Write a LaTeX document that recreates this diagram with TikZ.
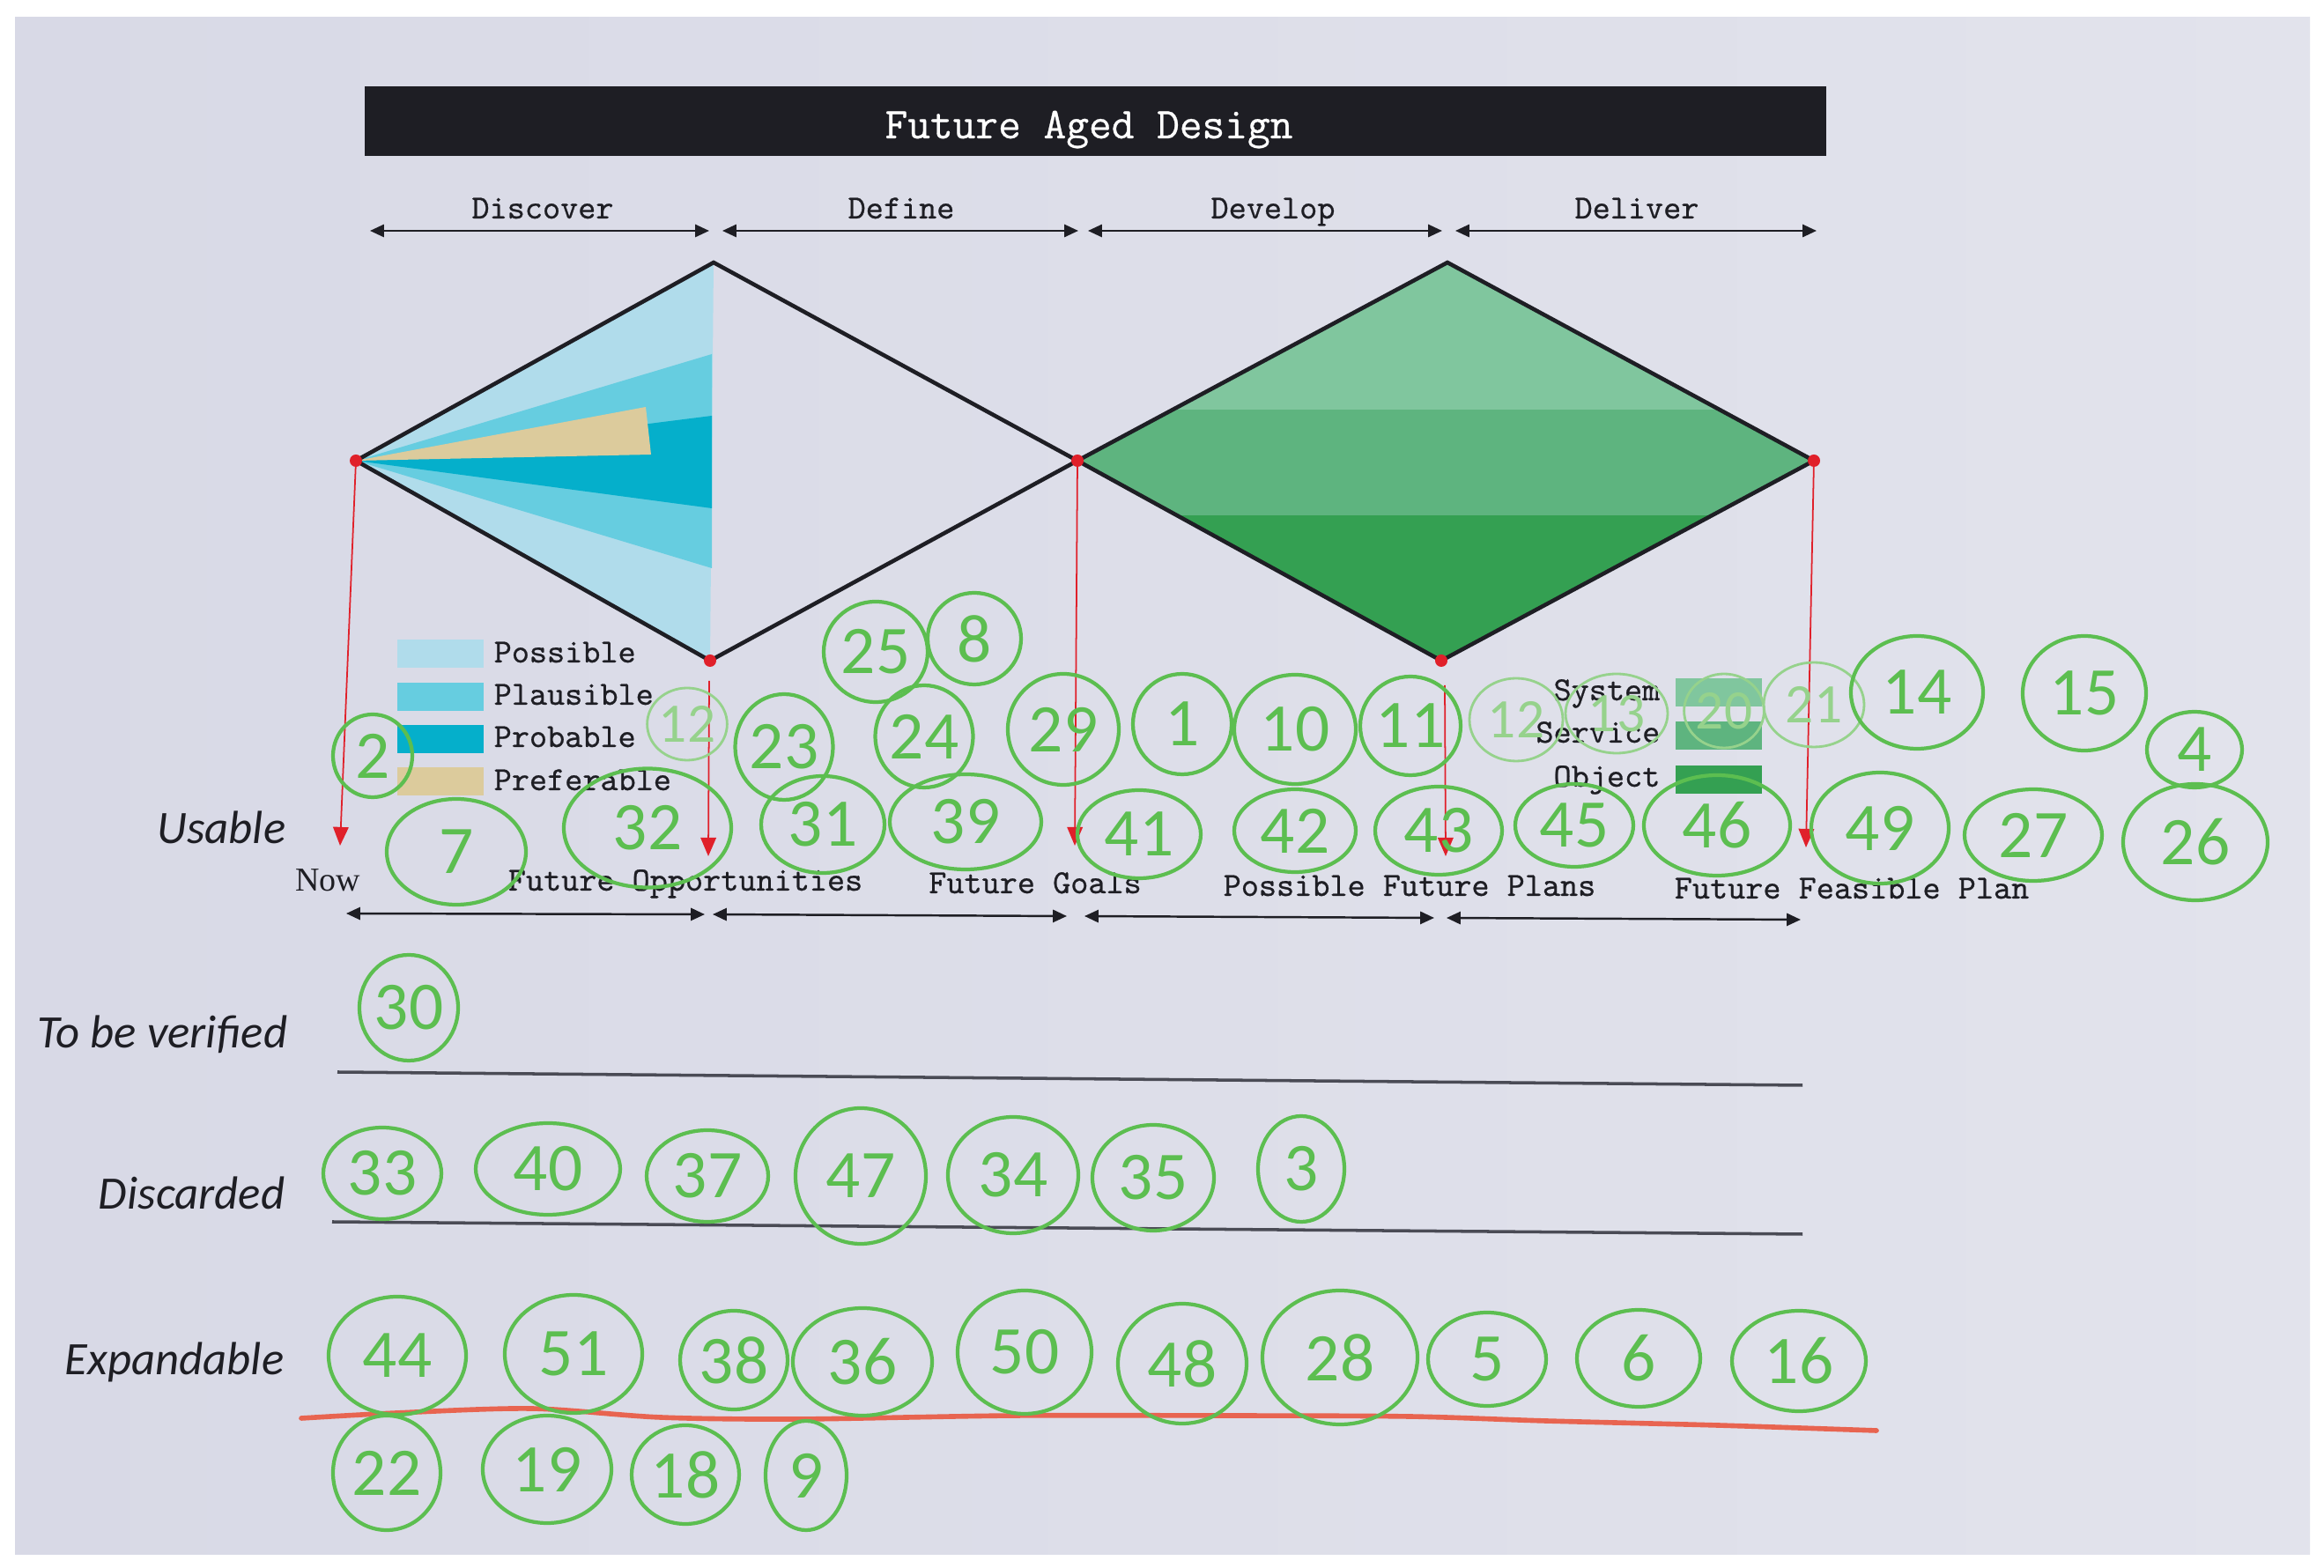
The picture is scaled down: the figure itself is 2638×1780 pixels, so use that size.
\documentclass[tikz,border=0pt]{standalone}
\usepackage{fontspec}
\usepackage{tikz}
\usetikzlibrary{arrows.meta,shapes.geometric}
\newfontfamily\rowfont{Carlito}
\newfontfamily\nowfont{Liberation Serif}
\newfontfamily\handfont{Carlito}
\newfontfamily\labfont{Latin Modern Mono}[FakeBold=0.6]
\definecolor{PaperBg}{RGB}{216,217,230}
\definecolor{PaperLight}{RGB}{226,227,236}
\definecolor{InkDark}{HTML}{1E1E24}
\definecolor{RuleGray}{HTML}{4A4B55}
\definecolor{PossibleBlue}{HTML}{B0DCEB}
\definecolor{PlausibleBlue}{HTML}{66CDE0}
\definecolor{ProbableBlue}{HTML}{05AFCB}
\definecolor{PreferableTan}{HTML}{DCCB9C}
\definecolor{SystemGreen}{HTML}{80C69E}
\definecolor{ServiceGreen}{HTML}{5EB47F}
\definecolor{ObjectGreen}{HTML}{34A052}
\definecolor{PenGreen}{RGB}{92,190,80}
\definecolor{FaintGreen}{RGB}{150,210,140}
\definecolor{MarkRed}{HTML}{E0202A}
\definecolor{MarkerRed}{RGB}{232,100,80}

\begin{document}
\begin{tikzpicture}[
    x=0.01cm,y=-0.01cm,
    lab/.style={font=\labfont\fontsize{10.9}{12}\selectfont,text=InkDark,inner sep=0pt,anchor=base},
    rowlab/.style={font=\rowfont\itshape\fontsize{15}{16}\selectfont,text=InkDark,inner sep=0pt,anchor=base east},
    span/.style={{Triangle[length=4.5pt,width=4pt]}-{Triangle[length=4.5pt,width=4pt]},line width=0.7pt,draw=InkDark},
    rhomb/.style={draw=InkDark,line width=1.3pt,line join=miter},
    drop/.style={-{Triangle[length=6pt,width=5pt]},draw=MarkRed,line width=0.5pt},
    swatch/.style={minimum width=0.97cm,minimum height=0.32cm,inner sep=0pt},
    rule/.style={draw=RuleGray,line width=1pt},
    pen/.style 2 args={ellipse,draw=PenGreen,line width=1.2pt,text=PenGreen,
      font=\handfont\fontsize{22}{22}\selectfont,inner sep=0pt,
      minimum width=#1*0.01cm,minimum height=#2*0.01cm},
    faint/.style 2 args={pen={#1}{#2},draw=FaintGreen,text=FaintGreen,line width=0.8pt,
      font=\handfont\fontsize{18}{18}\selectfont}
  ]
    \useasboundingbox (0,0) rectangle (2638,1780);
    \fill[white] (0,0) rectangle (2638,1780);
    \shade[left color=PaperBg,right color=PaperLight] (17,20) rectangle (2622,1765);

    \node[fill=InkDark,minimum width=16.59cm,minimum height=0.79cm,inner sep=0pt] (titlebar) at (1243.5,137.5) {};
    \node[lab,text=white,font=\labfont\fontsize{14.2}{16}\selectfont] (title) at (1236,157) {Future Aged Design};

    \node[lab] (discover) at (616,248) {Discover};
    \node[lab] (define) at (1023,248) {Define};
    \node[lab] (develop) at (1445,248) {Develop};
    \node[lab] (deliver) at (1858,248) {Deliver};
    \coordinate (t0) at (420,262);
    \coordinate (t1) at (805,262);
    \coordinate (t2) at (820,262);
    \coordinate (t3) at (1224,262);
    \coordinate (t4) at (1235,262);
    \coordinate (t5) at (1637,262);
    \coordinate (t6) at (1652,262);
    \coordinate (t7) at (2062,262);
    \draw[span] (t0)--(t1);
    \draw[span] (t2)--(t3);
    \draw[span] (t4)--(t5);
    \draw[span] (t6)--(t7);

    \coordinate (dl) at (404,523);
    \coordinate (dt1) at (810,298);
    \coordinate (db1) at (806,750);
    \coordinate (dm) at (1223,523);
    \coordinate (dt2) at (1643,298);
    \coordinate (db2) at (1636,750);
    \coordinate (dr) at (2059,523);
    \fill[PossibleBlue] (dl)--(dt1)--(db1)--cycle;
    \fill[PlausibleBlue] (dl)--(808,402)--(808,645)--cycle;
    \fill[ProbableBlue] (dl)--(808,472)--(808,577)--cycle;
    \fill[PreferableTan] (dl)--(733,462)--(739,516)--cycle;
    \begin{scope}
      \clip (dm)--(dt2)--(dr)--(db2)--cycle;
      \fill[SystemGreen] (1223,298) rectangle (2059,465);
      \fill[ServiceGreen] (1223,465) rectangle (2059,585);
      \fill[ObjectGreen] (1223,585) rectangle (2059,750);
    \end{scope}
    \draw[rhomb] (dl)--(dt1)--(dm)--(db1)--cycle;
    \draw[rhomb] (dm)--(dt2)--(dr)--(db2)--cycle;

    \coordinate (db1s) at (805,773);
    \coordinate (db2s) at (1640,778);
    \coordinate (nowtip) at (386,960);
    \coordinate (opptip) at (804,972);
    \coordinate (goaltip) at (1220,960);
    \coordinate (plantip) at (1641,972);
    \coordinate (feastip) at (2050,962);
    \draw[drop] (dl)--(nowtip);
    \draw[drop] (db1s)--(opptip);
    \draw[drop] (dm)--(goaltip);
    \draw[drop] (db2s)--(plantip);
    \draw[drop] (dr)--(feastip);
    \foreach \v in {dl,db1,dm,db2,dr}
      \fill[MarkRed] (\v) circle (7);

    \node[swatch,fill=PossibleBlue] (kpos) at (500,742) {};
    \node[swatch,fill=PlausibleBlue] (kpla) at (500,791) {};
    \node[swatch,fill=ProbableBlue] (kpro) at (500,839) {};
    \node[swatch,fill=PreferableTan] (kpre) at (500,887) {};
    \node[lab,anchor=base west] (tpos) at (560,752) {Possible};
    \node[lab,anchor=base west] (tpla) at (560,800) {Plausible};
    \node[lab,anchor=base west] (tpro) at (560,848) {Probable};
    \node[lab,anchor=base west] (tpre) at (560,897) {Preferable};

    \node[swatch,fill=SystemGreen] (ksys) at (1951,786) {};
    \node[swatch,fill=ServiceGreen] (kser) at (1951,835) {};
    \node[swatch,fill=ObjectGreen] (kobj) at (1951,885) {};
    \node[lab,anchor=base east] (tsys) at (1885,795) {System};
    \node[lab,anchor=base east] (tser) at (1885,843) {Service};
    \node[lab,anchor=base east] (tobj) at (1885,893) {Object};

    \node[lab,font=\nowfont\fontsize{10.8}{12}\selectfont] (now) at (372,1012) {Now};
    \node[lab] (opport) at (778,1011) {Future Opportunities};
    \node[lab] (goals) at (1175,1014) {Future Goals};
    \node[lab] (plans) at (1600,1017) {Possible Future Plans};
    \node[lab] (feasible) at (2102,1020) {Future Feasible Plan};
    \coordinate (b0) at (393,1037);
    \coordinate (b1) at (800,1038);
    \coordinate (b2) at (809,1038);
    \coordinate (b3) at (1211,1040);
    \coordinate (b4) at (1231,1040);
    \coordinate (b5) at (1628,1042);
    \coordinate (b6) at (1642,1042);
    \coordinate (b7) at (2044,1044);
    \draw[span] (b0)--(b1);
    \draw[span] (b2)--(b3);
    \draw[span] (b4)--(b5);
    \draw[span] (b6)--(b7);

    \node[rowlab] (usable) at (325,958) {Usable};
    \node[rowlab] (verify) at (327,1190) {To be verified};
    \node[rowlab] (discard) at (324,1373) {Discarded};
    \node[rowlab] (expand) at (323,1561) {Expandable};
    \coordinate (v0) at (383,1217);
    \coordinate (v1) at (2046,1232);
    \coordinate (c0) at (377,1387);
    \coordinate (c1) at (2046,1401);
    \draw[rule] (v0)--(v1);
    \draw[rule] (c0)--(c1);
    \draw[draw=MarkerRed,line width=1.6pt,line cap=round]
      plot[smooth] coordinates {(342,1610) (450,1604) (603,1599) (750,1609) (906,1611)
        (1150,1607) (1391,1607) (1600,1608) (1755,1613) (1950,1618) (2130,1624)};

    \node[pen={90}{94}] (u2) at (423,858) {2};
    \node[faint={90}{82}] (u12a) at (780,822) {12};
    \node[pen={118}{114}] (u25) at (994,740) {25};
    \node[pen={106}{104}] (u8) at (1106,725) {8};
    \node[pen={104}{120}] (u23) at (890,848) {23};
    \node[pen={100}{116}] (u24) at (1049,836) {24};
    \node[pen={126}{126}] (u29) at (1207,828) {29};
    \node[pen={112}{114}] (u1) at (1342,822) {1};
    \node[pen={138}{124}] (u10) at (1470,828) {10};
    \node[pen={114}{112}] (u11) at (1601,824) {11};
    \node[faint={106}{94}] (u12b) at (1721,817) {12};
    \node[faint={116}{90}] (u13) at (1835,810) {13};
    \node[faint={90}{84}] (u20) at (1957,807) {20};
    \node[faint={114}{96}] (u21) at (2059,800) {21};
    \node[pen={150}{128}] (u14) at (2176,786) {14};
    \node[pen={140}{130}] (u15) at (2366,787) {15};
    \node[pen={108}{86}] (u4) at (2491,851) {4};

    \node[pen={158}{120}] (u7) at (518,967) {7};
    \node[pen={190}{135}] (u32) at (735,940) {32};
    \node[pen={140}{110}] (u31) at (934,936) {31};
    \node[pen={172}{108}] (u39) at (1096,933) {39};
    \node[pen={140}{100}] (u41) at (1293,947) {41};
    \node[pen={138}{94}] (u42) at (1470,943) {42};
    \node[pen={144}{100}] (u43) at (1633,943) {43};
    \node[pen={134}{94}] (u45) at (1787,937) {45};
    \node[pen={166}{114}] (u46) at (1949,937) {46};
    \node[pen={156}{126}] (u49) at (2134,940) {49};
    \node[pen={156}{104}] (u27) at (2308,948) {27};
    \node[pen={164}{132}] (u26) at (2492,956) {26};

    \node[pen={112}{120}] (v30) at (464,1144) {30};

    \node[pen={134}{104}] (d33) at (434,1332) {33};
    \node[pen={164}{104}] (d40) at (622,1327) {40};
    \node[pen={138}{104}] (d37) at (803,1335) {37};
    \node[pen={148}{154}] (d47) at (977,1335) {47};
    \node[pen={148}{132}] (d34) at (1150,1334) {34};
    \node[pen={138}{120}] (d35) at (1309,1337) {35};
    \node[pen={98}{120}] (d3) at (1477,1327) {3};

    \node[pen={156}{134}] (e44) at (451,1539) {44};
    \node[pen={156}{134}] (e51) at (651,1537) {51};
    \node[pen={122}{112}] (e38) at (833,1544) {38};
    \node[pen={158}{122}] (e36) at (979,1546) {36};
    \node[pen={152}{140}] (e50) at (1163,1535) {50};
    \node[pen={146}{136}] (e48) at (1342,1548) {48};
    \node[pen={176}{152}] (e28) at (1521,1541) {28};
    \node[pen={134}{106}] (e5) at (1688,1543) {5};
    \node[pen={140}{110}] (e6) at (1860,1542) {6};
    \node[pen={152}{114}] (e16) at (2042,1545) {16};
    \node[pen={122}{130}] (e22) at (439,1672) {22};
    \node[pen={146}{122}] (e19) at (621,1668) {19};
    \node[pen={122}{112}] (e18) at (778,1674) {18};
    \node[pen={92}{124}] (e9) at (915,1675) {9};
  \end{tikzpicture}
\end{document}
